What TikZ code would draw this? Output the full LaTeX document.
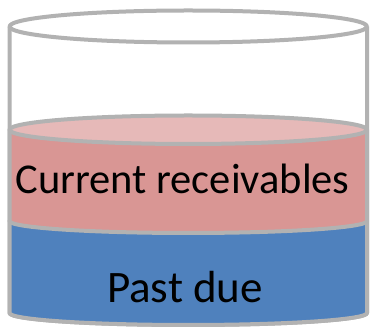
\documentclass[tikz,border=0pt]{standalone}
\usepackage{fontspec}
\setmainfont{Carlito}
\definecolor{rim}{RGB}{178,178,178}
\definecolor{pinktop}{RGB}{230,185,184}
\definecolor{pinkbody}{RGB}{217,150,148}
\definecolor{bluebody}{RGB}{79,129,189}
\tikzset{
  rimline/.style={draw=rim, line width=4pt, line join=round},
  label/.style={inner sep=0pt, anchor=base, text=black}
}
\begin{document}
\begin{tikzpicture}[x=1pt, y=-1pt]
\useasboundingbox (0,0) rectangle (370,328);
% glass
\path[rimline, fill=white] (9.5,26.5) -- (9.5,313) arc[start angle=180, end angle=0, x radius=178.75, y radius=12] -- (367,26.5);
\path[rimline, fill=white] (188.25,26.5) ellipse[x radius=178.75, y radius=16];
% blue layer
\path[rimline, fill=bluebody] (9.5,221) -- (9.5,313) arc[start angle=180, end angle=0, x radius=178.75, y radius=12] -- (367,221) -- cycle;
% pink layer
\path[rimline, fill=pinkbody] (9.5,129.75) -- (9.5,221) arc[start angle=180, end angle=0, x radius=178.75, y radius=12] -- (367,129.75) -- cycle;
\path[rimline, fill=pinktop] (188.25,129.75) ellipse[x radius=178.75, y radius=14.25];
% texts
\node[label, font=\fontsize{42.5}{46}\selectfont] (cur) at (182.5,194) {Current receivables};
\node[label, font=\fontsize{45}{50}\selectfont] (past) at (185,303) {Past due};
\end{tikzpicture}
\end{document}
